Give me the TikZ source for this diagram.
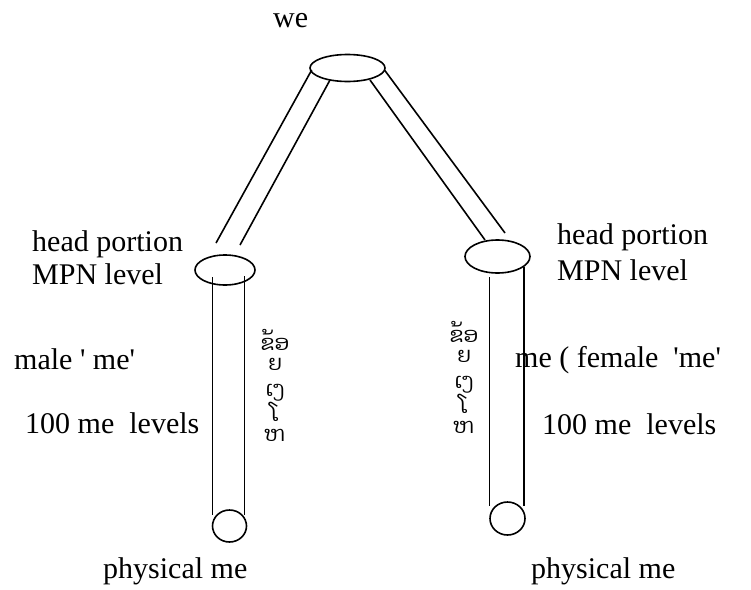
\documentclass[tikz,border=0pt]{standalone}
\usepackage{fontspec}
\setmainfont{Liberation Serif}
\newfontfamily\flao[Script=Lao]{Dhyana}
\usetikzlibrary{shapes.geometric}
\tikzset{
  txt/.style={font=\fontsize{30}{34}\selectfont, inner sep=0pt, anchor=base west},
  ring/.style={draw, ellipse, line width=1.6pt, inner sep=0pt},
  tube/.style={line width=1.6pt},
  laotxt/.style={font=\flao\fontsize{21}{20.5}\selectfont, align=center, inner sep=0pt, anchor=north}
}
\begin{document}
\begin{tikzpicture}[x=1pt,y=-1pt]
\useasboundingbox (0,0) rectangle (751,589);
% ellipses
\node[ring, minimum width=75pt, minimum height=27pt] (top) at (347.5,68) {};
\node[ring, minimum width=60pt, minimum height=30pt] (lhead) at (225,270) {};
\node[ring, minimum width=65pt, minimum height=33pt] (rhead) at (497.5,256.5) {};
\node[ring, minimum width=34pt, minimum height=32pt] (lfoot) at (229.5,526) {};
\node[ring, minimum width=35pt, minimum height=33pt] (rfoot) at (507.5,518.5) {};
% tube end points
\coordinate (tl1) at (311.7,70);
\coordinate (tl2) at (330,80);
\coordinate (tr1) at (370,80);
\coordinate (tr2) at (384.5,70);
\coordinate (hl1) at (216,243);
\coordinate (hl2) at (240,245);
\coordinate (hr1) at (485,240);
\coordinate (hr2) at (505,233);
\coordinate (lv1a) at (212.5,277);
\coordinate (lv1b) at (212.5,515);
\coordinate (lv2a) at (244.5,276);
\coordinate (lv2b) at (244.5,515);
\coordinate (rv1a) at (489.5,277);
\coordinate (rv1b) at (489.5,506);
\coordinate (rv2a) at (524,267);
\coordinate (rv2b) at (524,506);
% tubes
\draw[tube] (tl1) -- (hl1);
\draw[tube] (tl2) -- (hl2);
\draw[tube] (tr1) -- (hr1);
\draw[tube] (tr2) -- (hr2);
\draw[tube] (lv1a) -- (lv1b);
\draw[tube] (lv2a) -- (lv2b);
\draw[tube] (rv1a) -- (rv1b);
\draw[tube] (rv2a) -- (rv2b);
% texts
\node[txt] (we) at (273,27) {we};
\node[txt] (lhp) at (32,251) {head portion};
\node[txt] (lmpn) at (32,284) {MPN level};
\node[txt] (lmale) at (14,369) {male \textquotesingle{} me\textquotesingle};
\node[txt] (l100) at (25,433) {100 me\ \ levels};
\node[txt] (rhp) at (557,244) {head portion};
\node[txt] (rmpn) at (557,280) {MPN level};
\node[txt] (rfem) at (515,367) {me ( female\ \ \textquotesingle{}me\textquotesingle};
\node[txt] (r100) at (542,434) {100 me\ \ levels};
\node[txt] (lphys) at (103,578) {physical me};
\node[txt] (rphys) at (531,578) {physical me};
% stacked script
\node[laotxt] (lk) at (275,329) {ຂ້ອ\\ຍ\\[5pt]ເງ\\ໂ\\ຫ};
\node[laotxt] (rk) at (464,321) {ຂ້ອ\\ຍ\\[5pt]ເງ\\ໂ\\ຫ};
\end{tikzpicture}
\end{document}
